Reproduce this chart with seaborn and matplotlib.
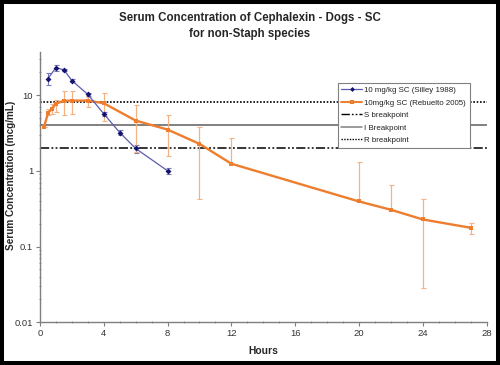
import matplotlib
matplotlib.use("Agg")
import matplotlib.pyplot as plt
import seaborn as sns
import numpy as np
import pandas as pd
from matplotlib.lines import Line2D
from matplotlib.patches import Rectangle
from matplotlib.ticker import LogLocator, NullFormatter, MultipleLocator

# ---- data ----
blue_hours = [0.5, 1, 1.5, 2, 3, 4, 5, 6, 8]
blue_conc = [16.5, 23, 21.5, 15.5, 10.2, 5.65, 3.2, 1.97, 1.0]
blue_err = [3.0, 2.0, 0.8, 0.6, 0.6, 0.3, 0.25, 0.25, 0.09]

orange_hours = [0.25, 0.5, 0.75, 1, 1.5, 2, 3, 4, 6, 8, 10, 12, 20, 22, 24, 27]
orange_conc = [3.8, 5.75, 6.6, 7.7, 8.4, 8.45, 8.45, 7.8, 4.6, 3.5, 2.27, 1.24, 0.394, 0.306, 0.228, 0.177]
orange_err_low = [0, 0.35, 0.95, 1.8, 3.0, 2.8, 1.55, 3.2, 2.84, 1.94, 1.84, 0, 0, 0, 0.2, 0.03]
orange_err_high = [0, 0.85, 1.05, 0.9, 2.8, 2.75, 1.1, 2.9, 2.9, 1.98, 1.57, 1.48, 0.91, 0.35, 0.2, 0.03]

breakpoint_names = ["S breakpoint", "I Breakpoint", "R breakpoint"]
breakpoint_values = [2, 4, 8]

series_labels = ["10 mg/kg SC (Silley 1988)", "10mg/kg SC (Rebuelto 2005)"]
title_text = "Serum Concentration of Cephalexin - Dogs - SC\nfor non-Staph species"
x_label = "Hours"
y_label = "Serum Concentration (mcg/mL)"
x_ticks = [0, 4, 8, 12, 16, 20, 24, 28]
y_ticks = [0.01, 0.1, 1, 10]
y_tick_labels = ["0.01", "0.1", "1", "10"]

# ---- style ----
sns.set_theme(style="white")
plt.rcParams["font.family"] = ["Liberation Sans", "DejaVu Sans"]

fig = plt.figure(figsize=(5.0, 3.65), dpi=100)
ax = fig.add_axes([0.080, 0.117, 0.893, 0.7405])

blue_line = "#5c5cae"
blue_mark = "#14146e"
blue_errc = "#7a7ab8"
orange = "#ee7d2e"
orange_errc = "#f4b183"

bp_styles = [
    dict(color="black", lw=1.1, ls=(0, (6, 1.5, 1.2, 1.5, 1.2, 1.5))),
    dict(color="#808080", lw=1.4, ls="-"),
    dict(color="black", lw=1.2, ls=(0, (1, 1))),
]
for v, st in zip(breakpoint_values, bp_styles):
    ax.axhline(v, **st, zorder=1)

# error bars
ax.errorbar(blue_hours, blue_conc, yerr=blue_err, fmt="none", ecolor=blue_errc,
            elinewidth=0.8, capsize=1.8, capthick=0.8, zorder=2)
ax.errorbar(orange_hours, orange_conc, yerr=[orange_err_low, orange_err_high], fmt="none",
            ecolor=orange_errc, elinewidth=0.9, capsize=1.8, capthick=0.8, zorder=2)

df_b = pd.DataFrame({"h": blue_hours, "c": blue_conc})
df_o = pd.DataFrame({"h": orange_hours, "c": orange_conc})
sns.lineplot(data=df_o, x="h", y="c", ax=ax, color=orange, lw=1.7, marker="s",
             markersize=2.8, markeredgewidth=0, estimator=None, sort=False, zorder=3)
sns.lineplot(data=df_b, x="h", y="c", ax=ax, color=blue_line, lw=0.9, marker="D",
             markersize=3, markerfacecolor=blue_mark, markeredgecolor=blue_mark,
             markeredgewidth=0, estimator=None, sort=False, zorder=4)

ax.set_yscale("log")
ax.set_ylim(0.01, 37)
ax.set_xlim(0, 28)
ax.set_xticks(x_ticks)
ax.set_xticklabels([str(t) for t in x_ticks])
ax.xaxis.set_minor_locator(MultipleLocator(1))
ax.set_yticks(y_ticks)
ax.set_yticklabels(y_tick_labels)
ax.yaxis.set_minor_locator(LogLocator(base=10, subs=np.arange(2, 10)))
ax.yaxis.set_minor_formatter(NullFormatter())

for s in ["top", "right"]:
    ax.spines[s].set_visible(False)
for s in ["left", "bottom"]:
    ax.spines[s].set_color("#7f7f7f")
    ax.spines[s].set_linewidth(1.0)

ax.tick_params(axis="both", which="major", labelsize=6.8, length=3, width=0.8,
               color="#7f7f7f", direction="out", pad=2, labelcolor="#333333",
               left=True, bottom=True)
ax.tick_params(axis="both", which="minor", length=2, width=0.6, color="#7f7f7f",
               direction="inout", left=True, bottom=True)

ax.set_xlabel(x_label, fontsize=7.4, fontweight="bold")
ax.xaxis.set_label_coords(0.5, -0.088)
ax.set_ylabel(y_label, fontsize=7.2, fontweight="bold")
ax.yaxis.set_label_coords(-0.053, 0.545)

fig.text(0.5, 0.966, title_text, ha="center", va="top", fontsize=8.3, fontweight="bold",
         linespacing=1.35)

handles = [
    Line2D([], [], color=blue_line, lw=0.9, marker="D", markersize=2.5,
           markerfacecolor=blue_mark, markeredgewidth=0),
    Line2D([], [], color=orange, lw=1.4, marker="s", markersize=2.5, markeredgewidth=0),
    Line2D([], [], **{**bp_styles[0], "lw": 1.0}),
    Line2D([], [], **{**bp_styles[1], "lw": 1.1}),
    Line2D([], [], **{**bp_styles[2], "lw": 1.0}),
]
labels = series_labels + breakpoint_names
leg = ax.legend(handles, labels, loc="upper left", bbox_to_anchor=(0.667, 0.885),
                fontsize=5.7, handlelength=2.6, handletextpad=0.3, labelspacing=0.62,
                borderpad=0.45, frameon=True, fancybox=False, framealpha=1,
                borderaxespad=0)
leg.get_frame().set_edgecolor("#808080")
leg.get_frame().set_linewidth(0.8)
for t in leg.get_texts():
    t.set_color("#222222")

fig.patches.append(Rectangle((0.004, 0.005), 0.992, 0.990, transform=fig.transFigure,
                             fill=False, edgecolor="black", linewidth=2.9))

fig.savefig("out.png", dpi=100)
